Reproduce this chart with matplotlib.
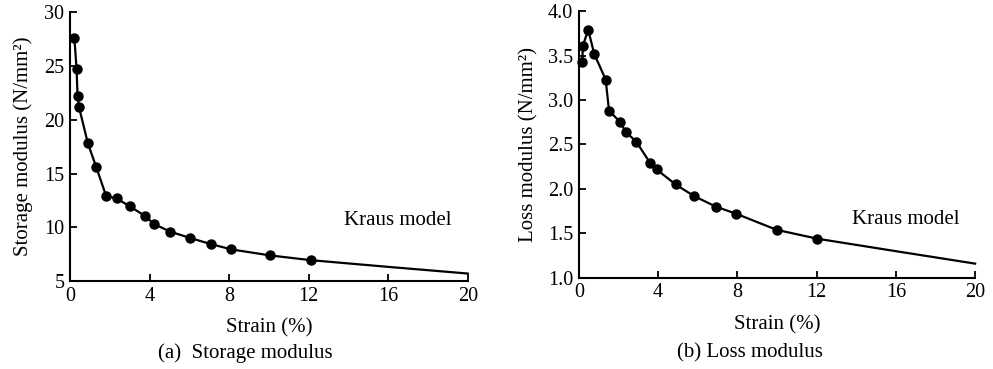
import matplotlib.pyplot as plt
import matplotlib

matplotlib.rcParams['font.family'] = ['Liberation Serif', 'DejaVu Serif']

# storage modulus data (N/mm^2) vs strain (%)
strain_a = [0.22, 0.33, 0.38, 0.45, 0.90, 1.32, 1.82, 2.34, 3.01, 3.78, 4.23,
            5.05, 6.01, 7.10, 8.12, 10.08, 12.12]
storage = [27.6, 24.7, 22.2, 21.2, 17.8, 15.6, 12.9, 12.7, 11.95, 11.05, 10.3,
           9.6, 9.03, 8.44, 7.95, 7.39, 6.95]
# Kraus model curve beyond the last point
model_x_a = [12.12, 16, 20]
model_y_a = [6.95, 6.33, 5.71]

# loss modulus data
strain_b = [0.17, 0.20, 0.47, 0.77, 1.35, 1.52, 2.09, 2.37, 2.90, 3.60, 3.92,
            4.88, 5.81, 6.92, 7.95, 9.98, 12.04]
loss = [3.43, 3.61, 3.79, 3.52, 3.23, 2.88, 2.75, 2.64, 2.53, 2.29, 2.22,
        2.05, 1.92, 1.80, 1.72, 1.54, 1.44]
model_x_b = [12.04, 16, 20]
model_y_b = [1.44, 1.30, 1.16]

fs = 15
fs_tick = 14.5

fig = plt.figure(figsize=(9.93, 3.69), dpi=100)
ax1 = fig.add_axes([0.0705, 0.238, 0.4005, 0.729])
ax2 = fig.add_axes([0.583, 0.247, 0.399, 0.723])


def style(ax):
    for s in ['top', 'right']:
        ax.spines[s].set_visible(False)
    for s in ['left', 'bottom']:
        ax.spines[s].set_linewidth(1.5)
    ax.tick_params(direction='in', length=5, width=1.3, labelsize=fs_tick, pad=4)
    ax.set_xlim(0, 20)
    ax.set_xticks([0, 4, 8, 12, 16, 20])
    ax.set_xlabel('Strain (%)', fontsize=fs, labelpad=9)


# (a) storage modulus
ax1.plot(strain_a, storage, color='black', lw=1.6, marker='o', ms=6.5, clip_on=False)
ax1.plot(model_x_a, model_y_a, color='black', lw=1.6, clip_on=False)
style(ax1)
ax1.set_ylim(5, 30)
ax1.set_yticks([5, 10, 15, 20, 25, 30])
ax1.set_ylabel('Storage modulus (N/mm²)', fontsize=fs, labelpad=8)
ax1.text(13.8, 10.67, 'Kraus model', fontsize=fs, va='center')

# (b) loss modulus
ax2.plot(strain_b, loss, color='black', lw=1.6, marker='o', ms=6.5, clip_on=False)
ax2.plot(model_x_b, model_y_b, color='black', lw=1.6, clip_on=False)
style(ax2)
ax2.set_ylim(1.0, 4.0)
ax2.set_yticks([1.0, 1.5, 2.0, 2.5, 3.0, 3.5, 4.0])
ax2.set_yticklabels(['1.0', '1.5', '2.0', '2.5', '3.0', '3.5', '4.0'])
ax2.set_ylabel('Loss modulus (N/mm²)', fontsize=fs, labelpad=7)
ax2.text(13.8, 1.66, 'Kraus model', fontsize=fs, va='center')

fig.text(245 / 993, 1 - 353 / 369, '(a)  Storage modulus', fontsize=fs, ha='center', va='center')
fig.text(750 / 993, 1 - 353 / 369, '(b) Loss modulus', fontsize=fs, ha='center', va='center')

plt.savefig('out.png', dpi=100)
